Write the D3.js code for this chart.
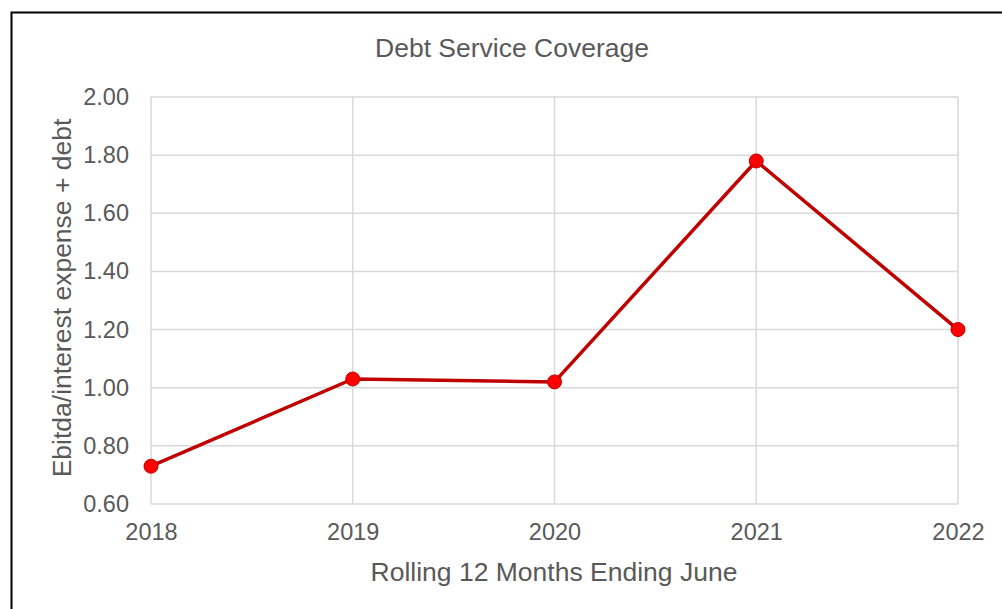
<!DOCTYPE html>
<html><head><meta charset="utf-8">
<script src="https://cdn.jsdelivr.net/npm/d3@7"></script>
<style>body{margin:0;background:#fff;}svg{display:block;font-family:"Liberation Sans",Arial,sans-serif;}</style>
</head><body>
<script>
const years = ["2018","2019","2020","2021","2022"];
const coverage = [0.73, 1.03, 1.02, 1.78, 1.20];
const yTicks = [0.6,0.8,1.0,1.2,1.4,1.6,1.8,2.0];
const titleText = "Debt Service Coverage";
const xTitle = "Rolling 12 Months Ending June";
const yTitle = "Ebitda/interest expense + debt";

const W=1002,H=609;
const m={left:151,top:97,right:W-958,bottom:H-504};
const svg=d3.select("body").append("svg").attr("width",W).attr("height",H);
svg.append("rect").attr("width",W).attr("height",H).attr("fill","#fff");
svg.append("rect").attr("x",11.5).attr("y",12.5).attr("width",1000).attr("height",620)
  .attr("fill","none").attr("stroke","#000").attr("stroke-width",2);

const x=d3.scalePoint().domain(years).range([m.left,W-m.right]);
const y=d3.scaleLinear().domain([0.6,2.0]).range([H-m.bottom,m.top]);

const g=svg.append("g");
g.append("g").selectAll("line").data(yTicks).join("line")
  .attr("x1",m.left).attr("x2",W-m.right)
  .attr("y1",d=>y(d)).attr("y2",d=>y(d))
  .attr("stroke","#d9d9d9").attr("stroke-width",1.5);
g.append("g").selectAll("line").data(years).join("line")
  .attr("x1",d=>x(d)).attr("x2",d=>x(d))
  .attr("y1",m.top).attr("y2",H-m.bottom)
  .attr("stroke","#d9d9d9").attr("stroke-width",1.5);

const ya=svg.append("g").attr("transform",`translate(${m.left},0)`)
  .call(d3.axisLeft(y).tickValues(yTicks).tickFormat(d3.format(".2f")).tickSize(0).tickPadding(22));
ya.select(".domain").remove();
ya.selectAll("text").attr("font-size",23.5).attr("fill","#595959").attr("font-family","Liberation Sans, Arial, sans-serif");

const xa=svg.append("g").attr("transform",`translate(0,${H-m.bottom})`)
  .call(d3.axisBottom(x).tickSize(0).tickPadding(19));
xa.select(".domain").remove();
xa.selectAll("text").attr("font-size",23.5).attr("fill","#595959").attr("font-family","Liberation Sans, Arial, sans-serif");

const data=years.map((d,i)=>({yr:d,v:coverage[i]}));
svg.append("path").datum(data)
  .attr("d",d3.line().x(d=>x(d.yr)).y(d=>y(d.v)))
  .attr("fill","none").attr("stroke","#c00000").attr("stroke-width",3.5).attr("stroke-linejoin","round");
svg.append("g").selectAll("circle").data(data).join("circle")
  .attr("cx",d=>x(d.yr)).attr("cy",d=>y(d.v)).attr("r",7)
  .attr("fill","#ff0000").attr("stroke","#c00000").attr("stroke-width",1);

svg.append("text").attr("x",512).attr("y",57).attr("text-anchor","middle")
  .attr("font-size",26.5).attr("fill","#595959").text(titleText);
svg.append("text").attr("x",554).attr("y",581).attr("text-anchor","middle")
  .attr("font-size",26.5).attr("fill","#595959").text(xTitle);
svg.append("text").attr("transform","translate(71,298) rotate(-90)").attr("text-anchor","middle")
  .attr("font-size",26.5).attr("fill","#595959").text(yTitle);
</script>
</body></html>
